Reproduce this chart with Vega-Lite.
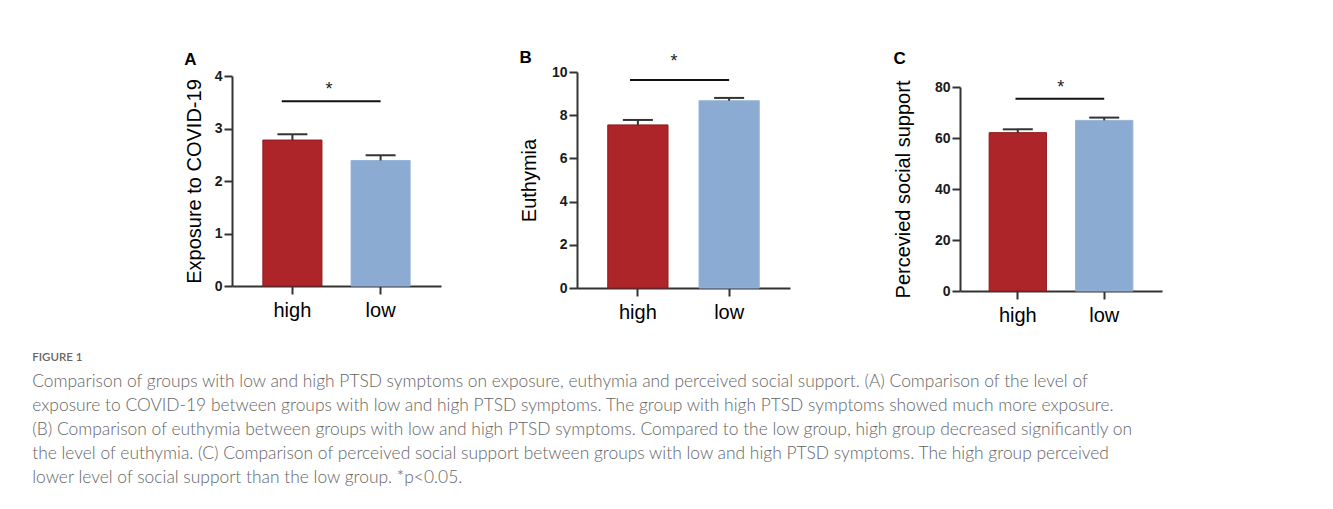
{
  "$schema": "https://vega.github.io/schema/vega-lite/v6.json",
  "background": "white",
  "padding": {"left": 32, "top": 48, "right": 5, "bottom": 5},
  "datasets": {
    "bars": [
      {"panel": "A", "group": "high", "mean": 2.78, "upper": 2.89},
      {"panel": "A", "group": "low", "mean": 2.39, "upper": 2.49},
      {"panel": "B", "group": "high", "mean": 7.55, "upper": 7.78},
      {"panel": "B", "group": "low", "mean": 8.67, "upper": 8.8},
      {"panel": "C", "group": "high", "mean": 62.1, "upper": 63.4},
      {"panel": "C", "group": "low", "mean": 66.9, "upper": 68.0}
    ],
    "sig": [
      {"panel": "A", "from": "high", "to": "low", "line": 3.52, "star": 3.73, "label": "*"},
      {"panel": "B", "from": "high", "to": "low", "line": 9.63, "star": 10.48, "label": "*"},
      {"panel": "C", "from": "high", "to": "low", "line": 75.4, "star": 79.6, "label": "*"}
    ]
  },
  "title": {
    "text": "FIGURE 1",
    "subtitle": [
      "Comparison of groups with low and high PTSD symptoms on exposure, euthymia and perceived social support. (A) Comparison of the level of",
      "exposure to COVID-19 between groups with low and high PTSD symptoms. The group with high PTSD symptoms showed much more exposure.",
      "(B) Comparison of euthymia between groups with low and high PTSD symptoms. Compared to the low group, high group decreased significantly on",
      "the level of euthymia. (C) Comparison of perceived social support between groups with low and high PTSD symptoms. The high group perceived",
      "lower level of social support than the low group. *p<0.05."
    ],
    "orient": "bottom",
    "anchor": "start",
    "frame": "bounds",
    "font": "Lato",
    "fontSize": 11.5,
    "fontWeight": 600,
    "color": "#666666",
    "subtitleFont": "Lato",
    "subtitleFontSize": 17.4,
    "subtitleFontWeight": 300,
    "subtitleColor": "#666666",
    "subtitleLineHeight": 24,
    "subtitlePadding": 9,
    "offset": 27,
    "dx": -152
  },
  "columns": 2,
  "align": "none",
  "spacing": 103,
  "concat": [
    {
      "columns": 2,
      "align": "none",
      "spacing": 78,
      "concat": [
        {
          "width": 209,
          "height": 219,
          "title": {"text": "A", "anchor": "start", "frame": "bounds", "fontSize": 17, "fontWeight": "bold", "font": "Liberation Sans", "color": "#000", "offset": 0},
          "layer": [
            {
              "data": {"name": "bars"},
              "transform": [{"filter": "datum.panel == 'A'"}],
              "mark": {"type": "bar", "strokeWidth": 1},
              "encoding": {
                "x": {"field": "group", "type": "nominal", "title": null, "scale": {"domain": ["high", "low"], "paddingInner": 0.33, "paddingOuter": 0.35}, "axis": {"labelFontSize": 20, "labelFontWeight": "normal", "labelAngle": 0, "labelColor": "#000", "offset": -5}},
                "y": {"field": "mean", "type": "quantitative", "title": "Exposure to COVID-19", "scale": {"domain": [0, 4], "nice": false, "range": [214, 4]}, "axis": {"values": [0, 0.5, 1, 1.5, 2, 2.5, 3, 3.5, 4], "labelExpr": "datum.value % 1 === 0 ? format(datum.value, 'd') : ''", "labelFontSize": 14, "labelFontWeight": "bold", "labelColor": "#1a1a1a", "titleFontSize": 20, "titlePadding": 10, "tickSize": {"condition": {"test": "datum.value % 1 !== 0", "value": 5}, "value": 8}}},
                "fill": {"field": "group", "type": "nominal", "scale": {"domain": ["high", "low"], "range": ["#AD2429", "#8CABD3"]}, "legend": null},
                "stroke": {"field": "group", "type": "nominal", "scale": {"domain": ["high", "low"], "range": ["#8E1A1E", "#96B3D8"]}, "legend": null}
              }
            },
            {
              "data": {"name": "bars"},
              "transform": [{"filter": "datum.panel == 'A'"}],
              "mark": {"type": "rule", "color": "#333", "strokeWidth": 2},
              "encoding": {
                "x": {"field": "group", "type": "nominal", "title": null},
                "y": {"field": "mean", "type": "quantitative", "title": "Exposure to COVID-19"},
                "y2": {"field": "upper"}
              }
            },
            {
              "data": {"name": "bars"},
              "transform": [{"filter": "datum.panel == 'A'"}],
              "mark": {"type": "tick", "orient": "horizontal", "color": "#333", "size": 30, "thickness": 2, "opacity": 1},
              "encoding": {
                "x": {"field": "group", "type": "nominal", "title": null},
                "y": {"field": "upper", "type": "quantitative", "title": "Exposure to COVID-19"}
              }
            },
            {
              "data": {"name": "sig"},
              "transform": [{"filter": "datum.panel == 'A'"}],
              "mark": {"type": "rule", "color": "#111", "strokeWidth": 2},
              "encoding": {
                "x": {"field": "from", "type": "nominal", "title": null, "bandPosition": 0.32},
                "x2": {"field": "to"},
                "y": {"field": "line", "type": "quantitative", "title": "Exposure to COVID-19"}
              }
            },
            {
              "data": {"name": "sig"},
              "transform": [{"filter": "datum.panel == 'A'"}],
              "mark": {"type": "text", "fontSize": 18, "baseline": "middle", "align": "center", "color": "#222"},
              "encoding": {
                "x": {"field": "from", "type": "nominal", "title": null, "bandPosition": 1.12},
                "y": {"field": "star", "type": "quantitative", "title": "Exposure to COVID-19"},
                "text": {"field": "label"}
              }
            }
          ]
        },
        {
          "width": 213,
          "height": 219,
          "title": {"text": "B", "anchor": "start", "frame": "bounds", "fontSize": 17, "fontWeight": "bold", "font": "Liberation Sans", "color": "#000", "offset": -14},
          "layer": [
            {
              "data": {"name": "bars"},
              "transform": [{"filter": "datum.panel == 'B'"}],
              "mark": {"type": "bar", "strokeWidth": 1},
              "encoding": {
                "x": {"field": "group", "type": "nominal", "title": null, "scale": {"domain": ["high", "low"], "paddingInner": 0.34, "paddingOuter": 0.337}, "axis": {"labelFontSize": 20, "labelFontWeight": "normal", "labelAngle": 0, "labelColor": "#000", "offset": -3}},
                "y": {"field": "mean", "type": "quantitative", "title": "Euthymia", "scale": {"domain": [0, 10], "nice": false, "range": [216, 0]}, "axis": {"values": [0, 1, 2, 3, 4, 5, 6, 7, 8, 9, 10], "labelExpr": "datum.value % 2 === 0 ? format(datum.value, 'd') : ''", "labelFontSize": 14, "labelFontWeight": "bold", "labelColor": "#1a1a1a", "titleFontSize": 20, "titlePadding": 12, "tickSize": {"condition": {"test": "datum.value % 2 !== 0", "value": 5}, "value": 8}}},
                "fill": {"field": "group", "type": "nominal", "scale": {"domain": ["high", "low"], "range": ["#AD2429", "#8CABD3"]}, "legend": null},
                "stroke": {"field": "group", "type": "nominal", "scale": {"domain": ["high", "low"], "range": ["#8E1A1E", "#96B3D8"]}, "legend": null}
              }
            },
            {
              "data": {"name": "bars"},
              "transform": [{"filter": "datum.panel == 'B'"}],
              "mark": {"type": "rule", "color": "#333", "strokeWidth": 2},
              "encoding": {
                "x": {"field": "group", "type": "nominal", "title": null},
                "y": {"field": "mean", "type": "quantitative", "title": "Euthymia"},
                "y2": {"field": "upper"}
              }
            },
            {
              "data": {"name": "bars"},
              "transform": [{"filter": "datum.panel == 'B'"}],
              "mark": {"type": "tick", "orient": "horizontal", "color": "#333", "size": 30, "thickness": 2, "opacity": 1},
              "encoding": {
                "x": {"field": "group", "type": "nominal", "title": null},
                "y": {"field": "upper", "type": "quantitative", "title": "Euthymia"}
              }
            },
            {
              "data": {"name": "sig"},
              "transform": [{"filter": "datum.panel == 'B'"}],
              "mark": {"type": "rule", "color": "#111", "strokeWidth": 2},
              "encoding": {
                "x": {"field": "from", "type": "nominal", "title": null, "bandPosition": 0.37},
                "x2": {"field": "to"},
                "y": {"field": "line", "type": "quantitative", "title": "Euthymia"}
              }
            },
            {
              "data": {"name": "sig"},
              "transform": [{"filter": "datum.panel == 'B'"}],
              "mark": {"type": "text", "fontSize": 18, "baseline": "middle", "align": "center", "color": "#222"},
              "encoding": {
                "x": {"field": "from", "type": "nominal", "title": null, "bandPosition": 1.1},
                "y": {"field": "star", "type": "quantitative", "title": "Euthymia"},
                "text": {"field": "label"}
              }
            }
          ]
        }
      ]
    },
    {
      "width": 202,
      "height": 219,
      "title": {"text": "C", "anchor": "start", "frame": "bounds", "fontSize": 17, "fontWeight": "bold", "font": "Liberation Sans", "color": "#000", "offset": 4},
      "layer": [
        {
          "data": {"name": "bars"},
          "transform": [{"filter": "datum.panel == 'C'"}],
          "mark": {"type": "bar", "strokeWidth": 1},
          "encoding": {
            "x": {"field": "group", "type": "nominal", "title": null, "scale": {"domain": ["high", "low"], "paddingInner": 0.337, "paddingOuter": 0.337}, "axis": {"labelFontSize": 20, "labelFontWeight": "normal", "labelAngle": 0, "labelColor": "#000"}},
            "y": {"field": "mean", "type": "quantitative", "title": "Percevied social support", "scale": {"domain": [0, 80], "nice": false, "range": [219, 15]}, "axis": {"values": [0, 10, 20, 30, 40, 50, 60, 70, 80], "labelExpr": "datum.value % 20 === 0 ? format(datum.value, 'd') : ''", "labelFontSize": 14, "labelFontWeight": "bold", "labelColor": "#1a1a1a", "titleFontSize": 20, "titlePadding": 21, "tickSize": {"condition": {"test": "datum.value % 20 !== 0", "value": 5}, "value": 8}}},
            "fill": {"field": "group", "type": "nominal", "scale": {"domain": ["high", "low"], "range": ["#AD2429", "#8CABD3"]}, "legend": null},
            "stroke": {"field": "group", "type": "nominal", "scale": {"domain": ["high", "low"], "range": ["#8E1A1E", "#96B3D8"]}, "legend": null}
          }
        },
        {
          "data": {"name": "bars"},
          "transform": [{"filter": "datum.panel == 'C'"}],
          "mark": {"type": "rule", "color": "#333", "strokeWidth": 2},
          "encoding": {
            "x": {"field": "group", "type": "nominal", "title": null},
            "y": {"field": "mean", "type": "quantitative", "title": "Percevied social support"},
            "y2": {"field": "upper"}
          }
        },
        {
          "data": {"name": "bars"},
          "transform": [{"filter": "datum.panel == 'C'"}],
          "mark": {"type": "tick", "orient": "horizontal", "color": "#333", "size": 30, "thickness": 2, "opacity": 1},
          "encoding": {
            "x": {"field": "group", "type": "nominal", "title": null},
            "y": {"field": "upper", "type": "quantitative", "title": "Percevied social support"}
          }
        },
        {
          "data": {"name": "sig"},
          "transform": [{"filter": "datum.panel == 'C'"}],
          "mark": {"type": "rule", "color": "#111", "strokeWidth": 2},
          "encoding": {
            "x": {"field": "from", "type": "nominal", "title": null, "bandPosition": 0.46},
            "x2": {"field": "to"},
            "y": {"field": "line", "type": "quantitative", "title": "Percevied social support"}
          }
        },
        {
          "data": {"name": "sig"},
          "transform": [{"filter": "datum.panel == 'C'"}],
          "mark": {"type": "text", "fontSize": 18, "baseline": "middle", "align": "center", "color": "#222"},
          "encoding": {
            "x": {"field": "from", "type": "nominal", "title": null, "bandPosition": 1.25},
            "y": {"field": "star", "type": "quantitative", "title": "Percevied social support"},
            "text": {"field": "label"}
          }
        }
      ]
    }
  ],
  "config": {
    "font": "Liberation Sans",
    "view": {"stroke": null},
    "axis": {"domainColor": "#333", "domainWidth": 2, "tickColor": "#333", "tickWidth": 2, "grid": false, "labelColor": "#111", "titleColor": "#000", "titleFontWeight": "normal", "titleFont": "Liberation Sans", "labelFont": "Liberation Sans"},
    "axisY": {"labelPadding": 2},
    "axisX": {"tickSize": 8, "labelPadding": 6}
  }
}
